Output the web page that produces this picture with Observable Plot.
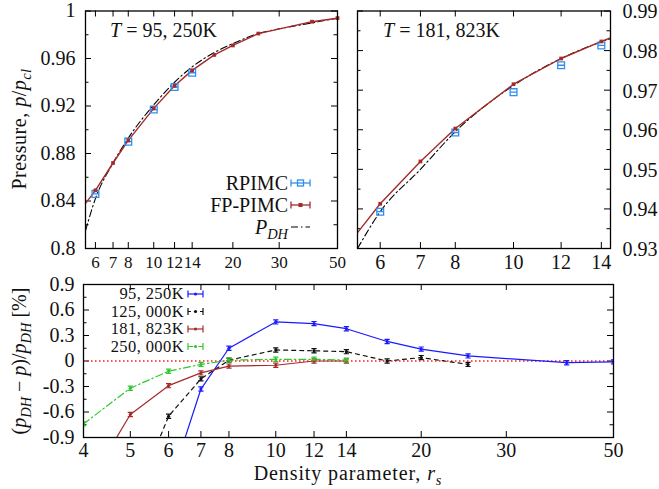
<!DOCTYPE html>
<html><head><meta charset="utf-8">
<script src="https://cdn.jsdelivr.net/npm/d3@7"></script>
<script src="https://cdn.jsdelivr.net/npm/@observablehq/plot@0.6"></script>
<style>
body{margin:0;background:#fff;}
#chart{position:relative;width:659px;height:489px;}
#chart svg{position:absolute;left:0;top:0;overflow:visible;}
#chart svg text{font-family:"Liberation Serif","Times New Roman",serif !important;}
</style></head><body><div id="chart"></div>
<script>
// ---------- data: top-left panel, T = 95,250K ----------
const rsFP_A = [6, 7, 8, 10, 12, 14, 17, 20, 25, 40, 50];
const pFP_A  = [0.849, 0.872, 0.891, 0.918, 0.937, 0.950, 0.963, 0.971, 0.981, 0.991, 0.994];
const rsFPline_A = [5.5, 6, 7, 8, 10, 12, 14, 17, 20, 25, 40, 50];
const pFPline_A  = [0.838, 0.849, 0.872, 0.891, 0.918, 0.937, 0.950, 0.963, 0.971, 0.981, 0.991, 0.994];
const rsRP_A = [6, 8, 10, 12, 14];
const pRP_A  = [0.846, 0.890, 0.917, 0.936, 0.948];
const rsDH_A = [5.5, 6, 7, 8, 10, 12, 14, 17, 20, 25, 30, 40, 50];
const pDH_A  = [0.815, 0.842, 0.872, 0.893, 0.921, 0.940, 0.953, 0.965, 0.9725, 0.981, 0.985, 0.990, 0.994];
const xTicks_A = [6, 7, 8, 10, 12, 14, 20, 30, 50];
const yTicks_A = [0.8, 0.84, 0.88, 0.92, 0.96, 1];
const yMinor_A = [0.82, 0.86, 0.9, 0.94, 0.98];

// ---------- data: top-right panel, T = 181,823K ----------
const rsFP_B = [6, 7, 8, 10, 12, 14];
const pFP_B  = [0.9413, 0.952, 0.9603, 0.9715, 0.978, 0.9823];
const rsFPline_B = [5.5, 6, 7, 8, 10, 12, 14, 14.5];
const pFPline_B  = [0.934, 0.9413, 0.952, 0.9603, 0.9715, 0.978, 0.9823, 0.9832];
const rsRP_B = [6, 8, 10, 12, 14];
const pRP_B  = [0.9393, 0.9593, 0.9695, 0.9763, 0.9813];
const rsDH_B = [5.5, 6, 7, 8, 10, 12, 14, 14.5];
const pDH_B  = [0.930, 0.9393, 0.9500, 0.9595, 0.9712, 0.978, 0.9822, 0.983];
const xTicks_B = [6, 7, 8, 10, 12, 14];
const yTicks_B = [0.93, 0.94, 0.95, 0.96, 0.97, 0.98, 0.99];
const yMinor_B = [0.935, 0.945, 0.955, 0.965, 0.975, 0.985];

// ---------- data: bottom panel, relative deviation [%] ----------
const rs_T95  = [6, 7, 8, 10, 12, 14, 17, 20, 25, 40, 50];
const dev_T95 = [-1.5, -0.33, 0.15, 0.46, 0.44, 0.38, 0.23, 0.14, 0.06, -0.02, -0.01];
const rs_T125  = [5, 6, 7, 8, 10, 12, 14, 17, 20, 25];
const dev_T125 = [-1.75, -0.65, -0.21, 0.01, 0.13, 0.12, 0.11, 0.0, 0.04, -0.04];
const rs_T181  = [4, 5, 6, 7, 8, 10, 12, 14];
const dev_T181 = [-1.55, -0.63, -0.29, -0.14, -0.06, -0.05, 0.0, 0.0];
const rs_T250  = [4, 5, 6, 7, 8, 10, 12, 14];
const dev_T250 = [-0.74, -0.32, -0.12, -0.04, 0.01, 0.02, 0.02, 0.01];
const seriesNames = ["95, 250K", "125, 000K", "181, 823K", "250, 000K"];
const xTicks_C = [4, 5, 6, 7, 8, 10, 12, 14, 20, 30, 50];
const yTicks_C = [-0.9, -0.6, -0.3, 0, 0.3, 0.6, 0.9];
const yMinor_C = [-0.75, -0.45, -0.15, 0.15, 0.45, 0.75];

// ---------- styling ----------
const W = 659, H = 489;
const FONT = "Liberation Serif, 'Times New Roman', serif";
const FS = 20;
const C_RP = "#2f8ff0", C_FP = "#a52a2a", C_BLUE = "#1a1aff", C_GREEN = "#2ec82e", C_BLK = "#111";
const DASHDOT = "7,3,1.5,3";

const ibeam = {draw(ctx, size) { const r = Math.sqrt(size / Math.PI); ctx.moveTo(-r, -0.8*r); ctx.lineTo(r, -0.8*r); ctx.moveTo(0, -0.8*r); ctx.lineTo(0, 0.8*r); ctx.moveTo(-r, 0.8*r); ctx.lineTo(r, 0.8*r); }};
const sqBar = {draw(ctx, size) { const r = Math.sqrt(size / Math.PI); ctx.moveTo(-r, -r); ctx.lineTo(r, -r); ctx.lineTo(r, r); ctx.lineTo(-r, r); ctx.closePath(); ctx.moveTo(-r, 0); ctx.lineTo(r, 0); }};

const zip = (xs, ys) => xs.map((x, i) => ({x, y: ys[i]}));

function tickMarks(xt, yt, yMinor, fw, fh) {
  const M = 6, m = 3.5;
  return [
    Plot.tickX(xt, {x: d => d, insetTop: fh - M, stroke: "#000"}),
    Plot.tickX(xt, {x: d => d, insetBottom: fh - M, stroke: "#000"}),
    Plot.tickY(yt, {y: d => d, insetRight: fw - M, stroke: "#000"}),
    Plot.tickY(yt, {y: d => d, insetLeft: fw - M, stroke: "#000"}),
    Plot.tickY(yMinor, {y: d => d, insetRight: fw - m, stroke: "#000"}),
    Plot.tickY(yMinor, {y: d => d, insetLeft: fw - m, stroke: "#000"})
  ];
}
const style = {fontFamily: FONT, fontSize: FS + "px", background: "transparent", overflow: "visible", color: "#111"};
const ax = {tickSize: 0, tickFormat: d => String(d), label: null, fontSize: FS, fontFamily: FONT, fill: "#111"};

// ---------- panel A ----------
const A = {l: 85, r: 337, t: 10.5, b: 248};
const plotA = Plot.plot({
  width: W, height: H, marginLeft: A.l, marginRight: W - A.r, marginTop: A.t, marginBottom: H - A.b,
  style,
  x: {type: "log", domain: [5.5, 50]},
  y: {domain: [0.8, 1]},
  marks: [
    Plot.axisX({...ax, ticks: xTicks_A, tickPadding: 7, fontSize: 17}),
    Plot.axisY({...ax, ticks: yTicks_A, tickPadding: 10}),
    ...tickMarks(xTicks_A, yTicks_A, yMinor_A, A.r - A.l, A.b - A.t),
    Plot.line(zip(rsDH_A, pDH_A), {x: "x", y: "y", stroke: "#000", strokeWidth: 1.1, strokeDasharray: DASHDOT, curve: "monotone-x", clip: true}),
    Plot.line(zip(rsFPline_A, pFPline_A), {x: "x", y: "y", stroke: C_FP, strokeWidth: 1.4, clip: true}),
    Plot.dot(zip(rsRP_A, pRP_A), {x: "x", y: "y", symbol: sqBar, r: 3.4, stroke: C_RP, strokeWidth: 1.3, fill: "none"}),
    Plot.dot(zip(rsFP_A, pFP_A), {x: "x", y: "y", symbol: "square", r: 2.1, fill: C_FP, stroke: "none"}),
    Plot.frame({stroke: "#000", strokeWidth: 1.3})
  ]
});

// ---------- panel B ----------
const B = {l: 357, r: 610, t: 10.5, b: 248};
const plotB = Plot.plot({
  width: W, height: H, marginLeft: B.l, marginRight: W - B.r, marginTop: B.t, marginBottom: H - B.b,
  style,
  x: {type: "log", domain: [5.5, 14.5]},
  y: {domain: [0.93, 0.99]},
  marks: [
    Plot.axisX({...ax, ticks: xTicks_B, tickPadding: 6}),
    Plot.axisY({...ax, anchor: "right", ticks: yTicks_B, tickPadding: 12, dy: 1}),
    ...tickMarks(xTicks_B, yTicks_B, yMinor_B, B.r - B.l, B.b - B.t),
    Plot.line(zip(rsDH_B, pDH_B), {x: "x", y: "y", stroke: "#000", strokeWidth: 1.1, strokeDasharray: DASHDOT, curve: "monotone-x", clip: true}),
    Plot.line(zip(rsFPline_B, pFPline_B), {x: "x", y: "y", stroke: C_FP, strokeWidth: 1.4, clip: true}),
    Plot.dot(zip(rsRP_B, pRP_B), {x: "x", y: "y", symbol: sqBar, r: 3.4, stroke: C_RP, strokeWidth: 1.3, fill: "none"}),
    Plot.dot(zip(rsFP_B, pFP_B), {x: "x", y: "y", symbol: "square", r: 2.1, fill: C_FP, stroke: "none"}),
    Plot.frame({stroke: "#000", strokeWidth: 1.3})
  ]
});

// ---------- panel C ----------
const Cp = {l: 83, r: 613, t: 284, b: 437};
const seriesC = [
  {rs: rs_T95, v: dev_T95, color: C_BLUE, dash: null, leg: null},
  {rs: rs_T125, v: dev_T125, color: C_BLK, dash: "4,4", leg: "3,3"},
  {rs: rs_T181, v: dev_T181, color: C_FP, dash: null, leg: null},
  {rs: rs_T250, v: dev_T250, color: C_GREEN, dash: DASHDOT, leg: "5,2,1.5,2"}
];
const rowsC = seriesC.flatMap((s, k) => s.rs.map((r, i) => ({x: r, y: s.v[i], k})));
const plotC = Plot.plot({
  width: W, height: H, marginLeft: Cp.l, marginRight: W - Cp.r, marginTop: Cp.t, marginBottom: H - Cp.b,
  style,
  x: {type: "log", domain: [4, 50]},
  y: {domain: [-0.9, 0.9]},
  marks: [
    Plot.axisX({...ax, ticks: xTicks_C, tickPadding: 5}),
    Plot.axisY({...ax, ticks: yTicks_C, tickPadding: 9}),
    ...tickMarks(xTicks_C, yTicks_C, yMinor_C, Cp.r - Cp.l, Cp.b - Cp.t),
    Plot.ruleY([0], {stroke: "#ff1a1a", strokeWidth: 1.4, strokeDasharray: "1.5,2.5"}),
    ...seriesC.map((s, k) => Plot.line(rowsC.filter(d => d.k === k), {x: "x", y: "y", stroke: s.color, strokeWidth: 1.2, strokeDasharray: s.dash, clip: true})),
    ...seriesC.map((s, k) => Plot.dot(rowsC.filter(d => d.k === k), {x: "x", y: "y", symbol: ibeam, r: 2.6, stroke: s.color, strokeWidth: 1.2, clip: true})),
    ...seriesC.map((s, k) => Plot.dot(rowsC.filter(d => d.k === k), {x: "x", y: "y", r: 1.6, fill: s.color, stroke: "none", clip: true})),
    Plot.frame({stroke: "#000", strokeWidth: 1.3})
  ]
});

const chart = document.getElementById("chart");
chart.append(plotA, plotB, plotC);

// ---------- rich text helpers (titles, legends, axis labels) ----------
function rich(svg, x, y, parts, {anchor = "start", rotate = 0, size = FS, spacing = 0} = {}) {
  const t = d3.select(svg).append("text")
    .attr("transform", `translate(${x},${y}) rotate(${rotate}) translate(0,${size * 0.33})`)
    .attr("text-anchor", anchor).attr("font-family", FONT).attr("font-size", size).attr("fill", "#111")
    .attr("letter-spacing", spacing);
  let shifted = false;
  for (const p of parts) {
    const ts = t.append("tspan").text(p.t);
    if (p.i) ts.attr("font-style", "italic");
    if (p.sub) { ts.attr("font-size", size * 0.72); if (!shifted) ts.attr("dy", size * 0.28); shifted = true; }
    else if (shifted) { ts.attr("dy", -size * 0.28); shifted = false; }
  }
}
function sample(svg, x1, x2, y, {stroke, dash = null, caps = false, marker = null, w = 1.3}) {
  const g = d3.select(svg).append("g").attr("stroke", stroke).attr("stroke-width", w).attr("fill", "none");
  g.append("line").attr("x1", x1).attr("x2", x2).attr("y1", y).attr("y2", y).attr("stroke-dasharray", dash);
  if (caps) for (const x of [x1, x2]) g.append("line").attr("x1", x).attr("x2", x).attr("y1", y - 3.5).attr("y2", y + 3.5);
  const xm = (x1 + x2) / 2;
  if (marker === "sq") g.append("rect").attr("x", xm - 3).attr("y", y - 3).attr("width", 6).attr("height", 6);
  if (marker === "fsq") g.append("rect").attr("x", xm - 2).attr("y", y - 2).attr("width", 4).attr("height", 4).attr("fill", stroke).attr("stroke", "none");
  if (marker === "dot") g.append("circle").attr("cx", xm).attr("cy", y).attr("r", 1.6).attr("fill", stroke).attr("stroke", "none");
}

// titles
rich(plotA, 110, 30, [{t: "T", i: true}, {t: " = 95, 250K"}]);
rich(plotB, 383, 30, [{t: "T", i: true}, {t: " = 181, 823K"}]);

// top-left legend
rich(plotA, 288, 183, [{t: "RPIMC"}], {anchor: "end"});
rich(plotA, 288, 205, [{t: "FP-PIMC"}], {anchor: "end"});
rich(plotA, 288, 227, [{t: "P", i: true}, {t: "DH", i: true, sub: true}], {anchor: "end"});
sample(plotA, 291, 310, 183, {stroke: C_RP, caps: true, marker: "sq"});
sample(plotA, 291, 310, 205, {stroke: C_FP, caps: true, marker: "fsq"});
sample(plotA, 291, 310, 227, {stroke: "#000", dash: DASHDOT, w: 1.1});

// bottom legend
const legY = [294, 311.5, 329, 346.5];
seriesNames.forEach((n, k) => {
  rich(plotC, 184, legY[k], [{t: n}], {anchor: "end", size: 16.5, spacing: 0.4});
  sample(plotC, 188, 203, legY[k], {stroke: seriesC[k].color, dash: seriesC[k].leg, caps: true, marker: "dot", w: 1.2});
});

// axis labels
rich(plotA, 19, 129, [{t: "Pressure, "}, {t: "p", i: true}, {t: "/"}, {t: "p", i: true}, {t: "cl", i: true, sub: true}], {anchor: "middle", rotate: -90, spacing: 0.5});
rich(plotC, 19, 361, [{t: "("}, {t: "p", i: true}, {t: "DH", i: true, sub: true}, {t: " − "}, {t: "p", i: true}, {t: ")/"}, {t: "p", i: true}, {t: "DH", i: true, sub: true}, {t: " [%]"}], {anchor: "middle", rotate: -90});
rich(plotC, 348, 473, [{t: "Density parameter, "}, {t: "r", i: true}, {t: "s", i: true, sub: true}], {anchor: "middle", spacing: 0.9});
</script></body></html>
